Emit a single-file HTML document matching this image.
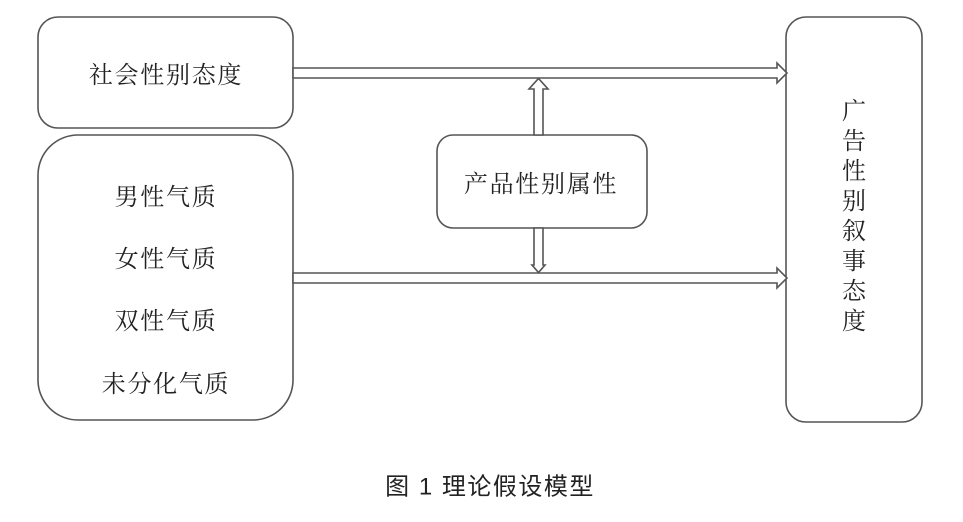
<!DOCTYPE html>
<html>
<head>
<meta charset="utf-8">
<style>
  html,body{margin:0;padding:0;background:#fff;}
  svg{display:block;}
  .t{font-family:"Liberation Serif","Noto Serif CJK SC",serif;font-size:24px;fill:#222;letter-spacing:1.7px;}
  .c{font-family:"Liberation Sans","Noto Sans CJK SC",sans-serif;font-size:24px;fill:#222;letter-spacing:1.5px;}
</style>
</head>
<body>
<svg width="963" height="522" viewBox="0 0 963 522" xmlns="http://www.w3.org/2000/svg">
  <g fill="#fff" stroke="#555" stroke-width="1.6">
    <rect x="38" y="17" width="255" height="111" rx="20" ry="20"/>
    <rect x="38" y="135" width="255" height="285" rx="40" ry="40"/>
    <rect x="786" y="17" width="136" height="405" rx="20" ry="20"/>
    <rect x="437" y="135" width="210" height="93" rx="16" ry="16"/>
    <!-- top horizontal arrow -->
    <polygon points="293,68 777,68 777,63 787,73 777,83 777,78 293,78"/>
    <!-- bottom horizontal arrow -->
    <polygon points="293,273 777,273 777,268 787,278 777,288 777,283 293,283"/>
    <!-- up arrow -->
    <polygon points="534,135 534,89 529,89 538.5,78.5 548,89 543,89 543,135"/>
    <!-- down arrow -->
    <polygon points="534,228 534,265 532,265 538.5,272.5 545,265 543,265 543,228"/>
  </g>
  <g class="t" text-anchor="middle" dominant-baseline="central">
    <text x="166" y="76">社会性别态度</text>
    <text x="166" y="198">男性气质</text>
    <text x="166" y="260">女性气质</text>
    <text x="166" y="322">双性气质</text>
    <text x="166" y="385">未分化气质</text>
    <text x="541" y="185">产品性别属性</text>
  </g>
  <g class="t" text-anchor="middle" dominant-baseline="central" style="letter-spacing:0">
    <text x="854" y="112">广</text>
    <text x="854" y="142">告</text>
    <text x="854" y="172">性</text>
    <text x="854" y="202">别</text>
    <text x="854" y="232">叙</text>
    <text x="854" y="262">事</text>
    <text x="854" y="292">态</text>
    <text x="854" y="322">度</text>
  </g>
  <text class="c" x="490" y="487" text-anchor="middle" dominant-baseline="central">图 1 理论假设模型</text>
</svg>
</body>
</html>
